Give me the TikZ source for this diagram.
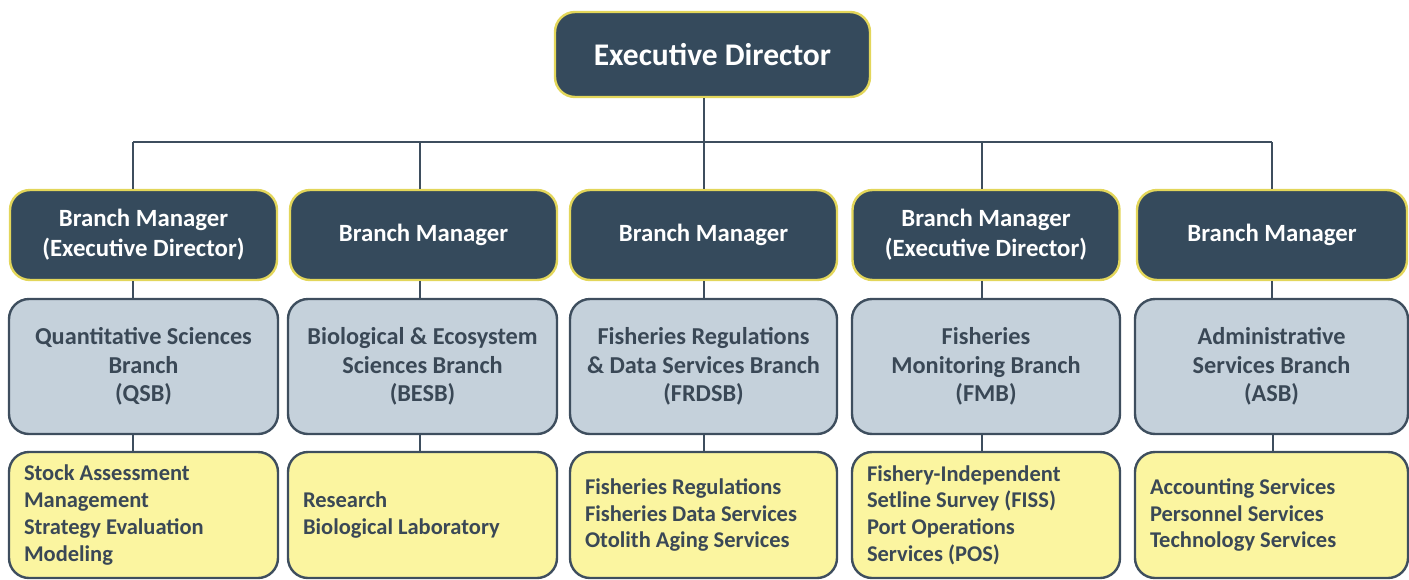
\documentclass[tikz,border=0pt]{standalone}
\usepackage{fontspec}
\setmainfont{Carlito}
\definecolor{darkbox}{HTML}{354A5C}
\definecolor{ybord}{HTML}{E3D65A}
\definecolor{greyfill}{HTML}{C5D1DB}
\definecolor{greybord}{HTML}{3E4E5E}
\definecolor{yfill}{HTML}{FBF5A0}
\definecolor{txt}{HTML}{3A4856}
\definecolor{conn}{HTML}{3E4E5E}
\tikzset{
  box/.style={rectangle, rounded corners=20pt, line width=2.4pt, inner sep=0pt, align=center, font=\bfseries},
  topbox/.style={box, fill=darkbox, draw=ybord, text=white, minimum width=315pt, minimum height=85pt, font=\bfseries\fontsize{31.5}{37}\selectfont},
  mgrbox/.style={box, fill=darkbox, draw=ybord, text=white, minimum width=267pt, minimum height=90pt, font=\bfseries\fontsize{24.8}{30}\selectfont},
  brbox/.style={box, fill=greyfill, draw=greybord, text=txt, minimum height=135pt, font=\bfseries\fontsize{24.3}{28.5}\selectfont},
  svcbox/.style={box, fill=yfill, draw=greybord, text=txt, minimum height=126pt, align=flush left, inner xsep=15pt, font=\bfseries\fontsize{22.5}{26.7}\selectfont},
  conn/.style={draw=conn, line width=2pt}
}
\begin{document}
\begin{tikzpicture}[x=1pt,y=-1pt]
\useasboundingbox (0,0) rectangle (1409,579);
\node[topbox] (top) at (712.5,54.5) {Executive Director};

\node[mgrbox] (bm1) at (143.5,235) {Branch Manager\\(Executive Director)};
\node[mgrbox] (bm2) at (423.5,235) {Branch Manager};
\node[mgrbox] (bm3) at (703.5,235) {Branch Manager};
\node[mgrbox] (bm4) at (986,235) {Branch Manager\\(Executive Director)};
\node[mgrbox, minimum width=270pt] (bm5) at (1272,235) {Branch Manager};

\node[brbox, minimum width=269pt] (br1) at (143.5,366.5) {Quantitative Sciences\\Branch\\(QSB)};
\node[brbox, minimum width=269pt] (br2) at (422.5,366.5) {Biological \& Ecosystem\\Sciences Branch\\(BESB)};
\node[brbox, minimum width=267pt] (br3) at (703.5,366.5) {Fisheries Regulations\\\& Data Services Branch\\(FRDSB)};
\node[brbox, minimum width=268pt] (br4) at (986,366.5) {Fisheries\\Monitoring Branch\\(FMB)};
\node[brbox, minimum width=273pt] (br5) at (1271.5,366.5) {Administrative\\Services Branch\\(ASB)};

\node[svcbox, text width=239pt] (sv1) at (143.5,515) {Stock Assessment\\Management\\Strategy Evaluation\\Modeling};
\node[svcbox, text width=239pt] (sv2) at (422.5,515) {Research\\Biological Laboratory};
\node[svcbox, text width=237pt] (sv3) at (703.5,515) {Fisheries Regulations\\Fisheries Data Services\\Otolith Aging Services};
\node[svcbox, text width=238pt] (sv4) at (986,515) {Fishery-Independent\\Setline Survey (FISS)\\Port Operations\\Services (POS)};
\node[svcbox, text width=243pt] (sv5) at (1271.5,515) {Accounting Services\\Personnel Services\\Technology Services};

\coordinate (hy) at (0,142);
\draw[conn] (top.south -| bm3.north) -- (bm3.north);
\draw[conn] ([xshift=-10.5pt]bm1.north |- hy) -- (bm5.north |- hy);
\draw[conn] ([xshift=-10.5pt]bm1.north |- hy) -- ([xshift=-10.5pt]bm1.north);
\draw[conn] ([xshift=-3.5pt]bm2.north |- hy) -- ([xshift=-3.5pt]bm2.north);
\draw[conn] ([xshift=-4pt]bm4.north |- hy) -- ([xshift=-4pt]bm4.north);
\draw[conn] (bm5.north |- hy) -- (bm5.north);
\draw[conn] ([xshift=-10.5pt]bm1.south) -- ([xshift=-10.5pt]bm1.south |- br1.north);
\draw[conn] ([xshift=-10.5pt]br1.south) -- ([xshift=-10.5pt]br1.south |- sv1.north);
\draw[conn] ([xshift=-3.5pt]bm2.south) -- ([xshift=-3.5pt]bm2.south |- br2.north);
\draw[conn] ([xshift=-2.5pt]br2.south) -- ([xshift=-2.5pt]br2.south |- sv2.north);
\draw[conn] (bm3.south) -- (br3.north);
\draw[conn] (br3.south) -- (sv3.north);
\draw[conn] ([xshift=-4pt]bm4.south) -- ([xshift=-4pt]bm4.south |- br4.north);
\draw[conn] ([xshift=-4pt]br4.south) -- ([xshift=-4pt]br4.south |- sv4.north);
\draw[conn] (bm5.south) -- (bm5.south |- br5.north);
\draw[conn] ([xshift=1.5pt]br5.south) -- ([xshift=1.5pt]br5.south |- sv5.north);
\end{tikzpicture}
\end{document}
